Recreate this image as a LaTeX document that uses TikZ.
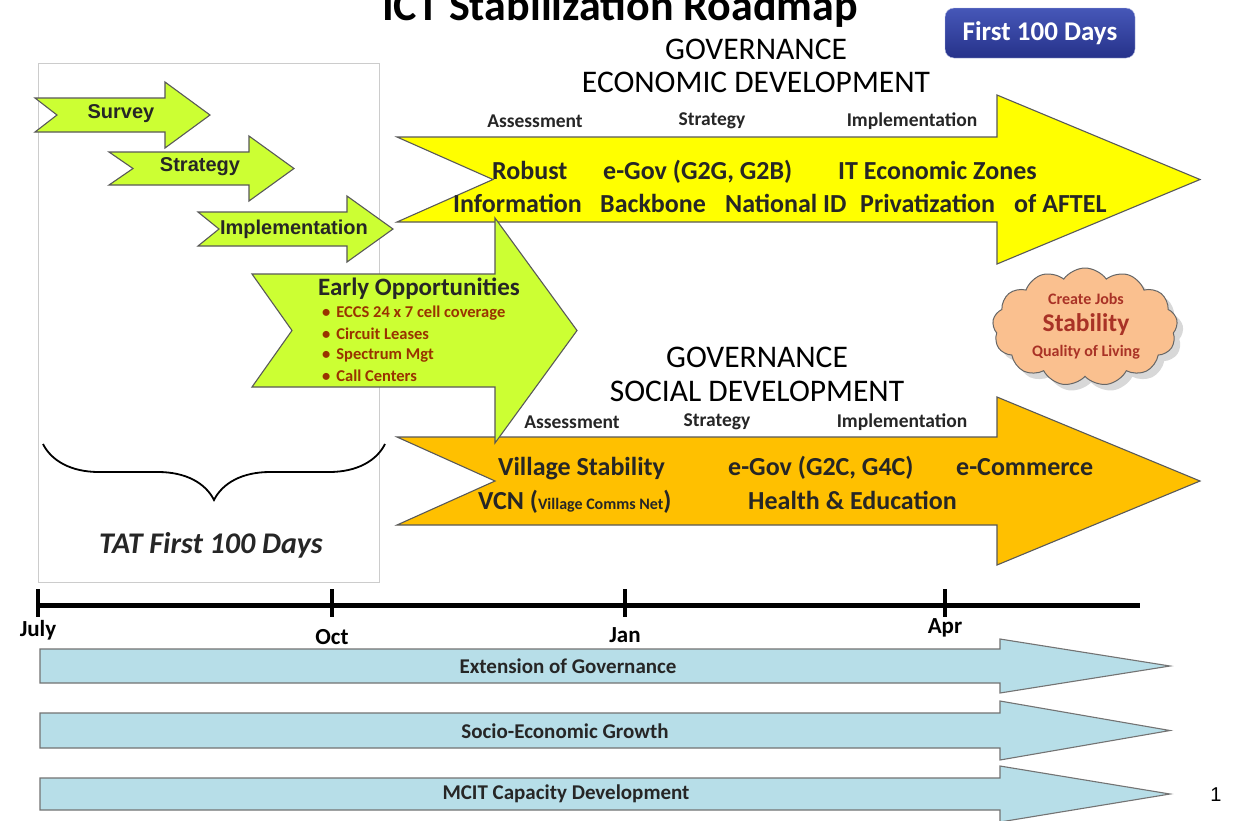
\documentclass[tikz,border=0pt]{standalone}
\usepackage{fontspec}
\setmainfont{Carlito}
\newfontfamily\arialfont{Liberation Sans}
\usetikzlibrary{positioning,shapes.symbols,shadows,decorations.pathreplacing}
\definecolor{stepgreen}{HTML}{CCFF33}
\definecolor{econyellow}{HTML}{FFFF00}
\definecolor{socialgold}{HTML}{FFC000}
\definecolor{barblue}{HTML}{B7DEE8}
\definecolor{cloudpeach}{HTML}{FAC08F}
\definecolor{jobred}{HTML}{A93226}
\definecolor{bulletred}{HTML}{993300}
\definecolor{darktext}{HTML}{262626}
\definecolor{badgetop}{HTML}{4657B8}
\definecolor{badgemid}{HTML}{5A6DD0}
\definecolor{badgebot}{HTML}{26328A}
\newcommand{\fsz}[2]{\fontsize{#1}{#2}\selectfont}
% notched arrow: style, left x, notch x, shaft end x, tip x, top y, bottom y, head overhang
\newcommand{\tailarrow}[8]{%
  \draw[#1] (#2,#6) -- (#4,#6) -- (#4,{#6-#8}) -- (#5,{(#6+#7)/2})
    -- (#4,{#7+#8}) -- (#4,#7) -- (#2,#7) -- (#3,{(#6+#7)/2}) -- cycle;}
\tikzset{
  arrowline/.style={draw=black!65, line width=1.1pt, line join=miter},
  greenarrow/.style={arrowline, fill=stepgreen},
  econarrow/.style={arrowline, fill=econyellow},
  socialarrow/.style={arrowline, fill=socialgold},
  bararrow/.style={arrowline, draw=black!55, fill=barblue},
  steplabel/.style={font=\arialfont\bfseries\fsz{20}{23}, text=darktext},
  bigtxt/.style={font=\bfseries\fsz{26}{31}, text=darktext, anchor=base west, inner sep=0pt},
  phase/.style={font=\bfseries\fsz{19.5}{23}, text=darktext},
  headline/.style={font=\fsz{31.5}{36}, text=black},
  month/.style={font=\bfseries\fsz{23}{27}},
  barlabel/.style={font=\bfseries\fsz{21}{25}, text=darktext},
  bulletline/.style={font=\bfseries\fsz{16.5}{19}, text=bulletred, anchor=west, inner sep=0pt},
  badge/.style={rounded corners=9pt, top color=badgetop, middle color=badgemid, bottom color=badgebot,
    draw=badgetop!40, minimum width=190pt, minimum height=50pt, text=white,
    font=\bfseries\fsz{27}{31}}
}
\begin{document}
\begin{tikzpicture}[x=1pt, y=-1pt]
  \useasboundingbox (0,0) rectangle (1233,820);
  \clip (0,0) rectangle (1233,820);
  \fill[white] (0,0) rectangle (1233,820);

  % title, cut by the top edge
  \node[anchor=base, font=\bfseries\fsz{44}{48}] (title) at (620,20) {ICT Stabilization Roadmap};
  \node[badge] (first) at (1040,33) {First 100 Days};

  % frame round the first 100 days
  \draw[black!20, line width=0.8pt] (38,63) rectangle (379,582);

  % economic track
  \node[headline] (govecon) at (756,49) {GOVERNANCE};
  \node[headline] (econ) at (756,82) {ECONOMIC DEVELOPMENT};
  \node[phase] (assecon) at (535,121) {Assessment};
  \node[phase] (stratecon) at (712,121) {Strategy};
  \node[phase] (implecon) at (912,121) {Implementation};
  \tailarrow{econarrow}{397}{493}{997}{1200}{137}{222}{42}
  \node[bigtxt] (robust) at (492,179) {Robust};
  \node[bigtxt] (egovb) at (603,179) {e-Gov (G2G, G2B)};
  \node[bigtxt] (zones) at (838,179) {IT Economic Zones};
  \node[bigtxt] (info) at (453,212) {Information};
  \node[bigtxt] (backbone) at (600,212) {Backbone};
  \node[bigtxt] (natid) at (725,212) {National ID};
  \node[bigtxt] (privat) at (860,212) {Privatization};
  \node[bigtxt] (aftel) at (1014,212) {of AFTEL};

  % social track
  \node[headline] (govsoc) at (757,357) {GOVERNANCE};
  \node[headline] (social) at (757,391) {SOCIAL DEVELOPMENT};
  \node[phase] (asssoc) at (572,422) {Assessment};
  \node[phase] (stratsoc) at (717,422) {Strategy};
  \node[phase] (implsoc) at (902,422) {Implementation};
  \tailarrow{socialarrow}{397}{495}{997}{1200}{437}{525}{40}
  \node[bigtxt] (village) at (498,475) {Village Stability};
  \node[bigtxt] (egovc) at (728,475) {e-Gov (G2C, G4C)};
  \node[bigtxt] (ecomm) at (956,475) {e-Commerce};
  \node[bigtxt] (vcn) at (478,509) {VCN (\fsz{16}{18}Village Comms Net\fsz{26}{31})};
  \node[bigtxt] (health) at (748,509) {Health \& Education};

  % first steps
  \tailarrow{greenarrow}{35}{57}{165}{210}{98}{132}{16}
  \tailarrow{greenarrow}{109}{133}{249}{294}{152}{185}{16}
  \tailarrow{greenarrow}{198}{219}{347}{393}{212}{246}{16}
  \node[steplabel] (survey) at (121,114) {Survey};
  \node[steplabel] (strategy) at (200,167) {Strategy};
  \node[steplabel] (implement) at (294,229) {Implementation};

  \tailarrow{greenarrow}{252}{292}{495}{577}{274}{387}{56}
  \node[font=\bfseries\fsz{25}{29}, text=darktext, anchor=west, inner sep=0pt] (early) at (318,289) {Early Opportunities};
  \foreach \t [count=\i] in {ECCS 24 x 7 cell coverage, Circuit Leases, Spectrum Mgt, Call Centers}
    \node[bulletline] (eo\i) at (322,{292+21*\i}) {\textbullet\hspace{6pt}\t};

  % outcome cloud
  \node[cloud, cloud puffs=13, cloud puff arc=110, aspect=1.6, draw=black!60, line width=1pt,
        fill=cloudpeach, minimum width=185pt, minimum height=118pt,
        drop shadow={shadow xshift=6pt, shadow yshift=-6pt, fill=black!30}] (cloud) at (1085,327) {};
  \node[font=\bfseries\fsz{16}{19}, text=jobred] (jobs) at (1086,299) {Create Jobs};
  \node[font=\bfseries\fsz{25.5}{29}, text=jobred] (stab) at (1086,325) {Stability};
  \node[font=\bfseries\fsz{16}{19}, text=jobred] (living) at (1086,352) {Quality of Living};

  % brace over the first 100 days
  \draw[decorate, decoration={brace, mirror, amplitude=56pt}, line width=1.8pt] (43,444) -- (385,444);
  \node[font=\bfseries\itshape\fsz{30}{34}, text=darktext] (tat) at (211,545) {TAT First 100 Days};

  % timeline
  \draw[line width=5pt] (38,605) -- (1140,605);
  \foreach \x/\m/\y in {38/July/630, 332/Oct/637, 625/Jan/635, 945/Apr/628} {
    \draw[line width=4pt] (\x,589) -- (\x,617);
    \node[month] (m\m) at (\x,\y) {\m};
  }

  % long running efforts
  \tailarrow{bararrow}{40}{40}{1000}{1170}{649}{683}{10}
  \tailarrow{bararrow}{40}{40}{1000}{1170}{713}{748}{12}
  \tailarrow{bararrow}{40}{40}{1000}{1170}{778}{810}{12}
  \node[barlabel] (extgov) at (568,666) {Extension of Governance};
  \node[barlabel] (socio) at (565,731) {Socio-Economic Growth};
  \node[barlabel] (mcit) at (566,794) {MCIT Capacity Development};

  \node[font=\arialfont\fsz{20}{24}] (pageno) at (1216,795) {1};
\end{tikzpicture}
\end{document}
